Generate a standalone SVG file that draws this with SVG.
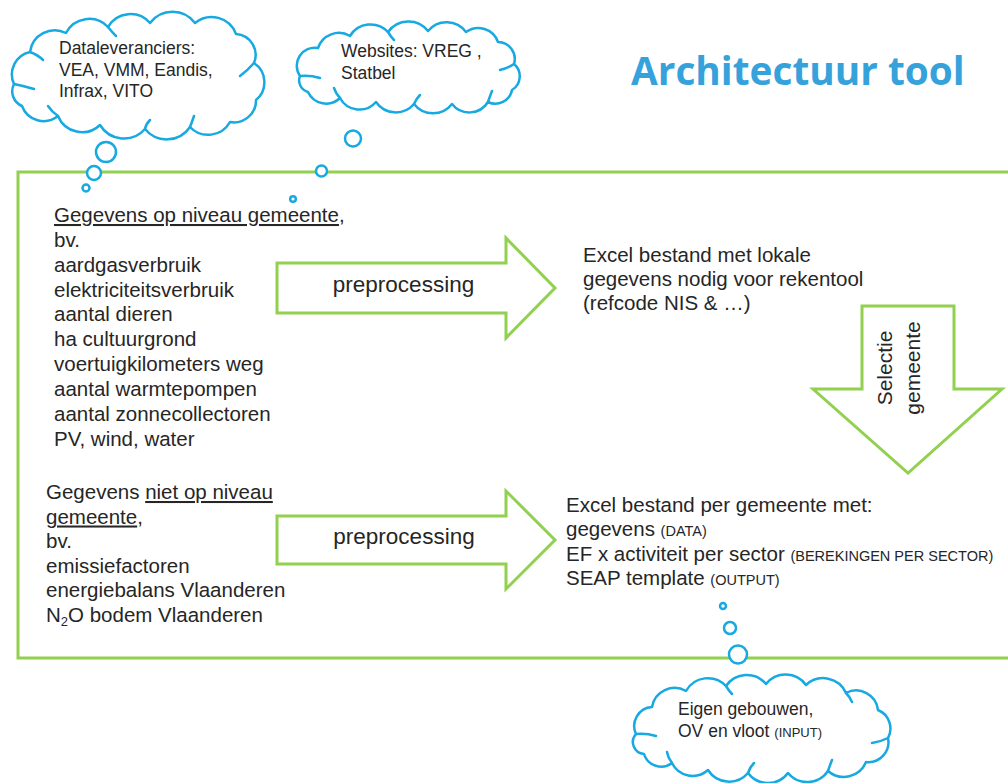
<svg xmlns="http://www.w3.org/2000/svg" width="1008" height="783" viewBox="0 0 1008 783">
<defs>
<style>
.t{font-family:"Liberation Sans",Arial,sans-serif;font-size:20.5px;fill:#262626}
.ct{font-family:"Liberation Sans",Arial,sans-serif;font-size:17.5px;fill:#262626}
.sm{font-size:14.5px}
.pp{font-family:"Liberation Sans",Arial,sans-serif;font-size:22.5px;fill:#262626;text-anchor:middle}
.green{fill:#fff;stroke:#92D050;stroke-width:3}
.frame{fill:none;stroke:#92D050;stroke-width:3}
.cloud{fill:#fff;stroke:#17A9E1;stroke-width:2.5;stroke-linejoin:round}
.curl{fill:none;stroke:#17A9E1;stroke-width:2.5;stroke-linecap:round}
.bub{fill:#fff;stroke:#17A9E1;stroke-width:2.5}
.u{text-decoration:underline}
</style>
</defs>
<rect width="1008" height="783" fill="#fff"/>

<g id="frame">
<rect class="frame" x="18" y="172" width="1000" height="486"/>
</g>

<g id="title">
<text x="631" y="85" style="font-family:'Open Sans',sans-serif;font-weight:bold;font-size:38.8px;fill:#36A2DC">Architectuur tool</text>
</g>

<g id="cloud-dataleveranciers">
<path class="cloud" d="M14,84 A23,23 0 0 1 30,52 A25,25 0 0 1 66,33 A26,26 0 0 1 108,27 A26,26 0 0 1 150,23 A28,28 0 0 1 195,23 A26,26 0 0 1 236,34 A21,21 0 0 1 254,63 A23,23 0 0 1 256,100 A22,22 0 0 1 230,122 A25,25 0 0 1 190,127 A28,28 0 0 1 145,129 A28,28 0 0 1 100,125 A26,26 0 0 1 58,116 A23,23 0 0 1 22,106 A16,16 0 0 1 14,84 Z"/>
<path class="curl" d="M14,84 Q24,86 34,89 M58,116 Q52,112 48,106 M145,129 Q146,124 150,120 M190,127 Q192,122 194,116 M254,63 Q248,70 240,76 M108,27 Q112,32 116,36 M30,52 Q38,55 43,60"/>
<text class="ct" x="59" y="54">Dataleveranciers:</text>
<text class="ct" x="59" y="76">VEA, VMM, Eandis,</text>
<text class="ct" x="59" y="97">Infrax, VITO</text>
</g>

<g id="cloud-websites">
<path class="cloud" d="M300,76 A18,18 0 0 1 318,48 A22,22 0 0 1 350,36 A24,24 0 0 1 388,32 A25,25 0 0 1 428,31 A24,24 0 0 1 466,32 A21,21 0 0 1 498,42 A17,17 0 0 1 514,64 A16,16 0 0 1 512,90 A17,17 0 0 1 488,102 A22,22 0 0 1 452,104 A24,24 0 0 1 414,104 A24,24 0 0 1 376,102 A22,22 0 0 1 340,98 A20,20 0 0 1 308,92 A12,12 0 0 1 300,76 Z"/>
<path class="curl" d="M300,76 Q310,75 320,78 M340,98 Q336,94 334,88 M414,104 Q416,99 420,95 M488,102 Q490,96 492,91 M514,64 Q508,68 500,70 M388,32 Q391,37 394,40"/>
<text class="ct" x="341" y="57">Websites: VREG ,</text>
<text class="ct" x="341" y="79">Statbel</text>
</g>

<g id="cloud-eigen">
<path class="cloud" d="M636,734 A19,19 0 0 1 652,707 A23,23 0 0 1 686,691 A25,25 0 0 1 726,686 A25,25 0 0 1 766,684 A25,25 0 0 1 806,685 A25,25 0 0 1 846,693 A22,22 0 0 1 878,710 A20,20 0 0 1 888,738 A20,20 0 0 1 866,762 A24,24 0 0 1 828,771 A25,25 0 0 1 788,773 A25,25 0 0 1 748,773 A25,25 0 0 1 708,770 A23,23 0 0 1 672,763 A18,18 0 0 1 644,754 A12,12 0 0 1 636,734 Z"/>
<path class="curl" d="M636,734 Q646,733 656,736 M672,763 Q668,758 667,752 M748,773 Q750,767 754,763 M828,771 Q830,765 832,760 M888,738 Q880,742 872,743 M726,686 Q729,691 732,694 M846,693 Q850,697 852,702"/>
<text class="ct" x="678" y="715">Eigen gebouwen,</text>
<text class="ct" x="678" y="737">OV en vloot <tspan style="font-size:13px">(INPUT)</tspan></text>
</g>

<g id="bubbles">
<circle class="bub" cx="106" cy="152" r="10"/>
<circle class="bub" cx="94" cy="173" r="7"/>
<circle class="bub" cx="86" cy="188" r="3.5"/>
<circle class="bub" cx="353" cy="138.5" r="8"/>
<circle class="bub" cx="321.5" cy="171" r="5.5"/>
<circle class="bub" cx="293" cy="199" r="2.8"/>
<circle class="bub" cx="723" cy="606" r="3"/>
<circle class="bub" cx="730" cy="628" r="6"/>
<circle class="bub" cx="738" cy="654.5" r="9"/>
</g>

<g id="data-gemeente">
<text class="t" x="54" y="222"><tspan class="u">Gegevens op niveau gemeente</tspan>,</text>
<text class="t" x="54" y="247">bv.</text>
<text class="t" x="54" y="272">aardgasverbruik</text>
<text class="t" x="54" y="296.5">elektriciteitsverbruik</text>
<text class="t" x="54" y="321">aantal dieren</text>
<text class="t" x="54" y="346">ha cultuurgrond</text>
<text class="t" x="54" y="371">voertuigkilometers weg</text>
<text class="t" x="54" y="396">aantal warmtepompen</text>
<text class="t" x="54" y="420.5">aantal zonnecollectoren</text>
<text class="t" x="54" y="445.5">PV, wind, water</text>
</g>

<g id="data-niet-gemeente">
<text class="t" x="46" y="499">Gegevens <tspan class="u">niet op niveau</tspan></text>
<text class="t" x="46" y="523.5"><tspan class="u">gemeente</tspan>,</text>
<text class="t" x="46" y="548">bv.</text>
<text class="t" x="46" y="572.5">emissiefactoren</text>
<text class="t" x="46" y="597">energiebalans Vlaanderen</text>
<text class="t" x="46" y="622">N<tspan dy="4" style="font-size:13px">2</tspan><tspan dy="-4">O bodem Vlaanderen</tspan></text>
</g>

<g id="excel-lokaal">
<text class="t" x="583" y="262">Excel bestand met lokale</text>
<text class="t" x="583" y="286">gegevens nodig voor rekentool</text>
<text class="t" x="583" y="310">(refcode NIS &amp; …)</text>
</g>

<g id="excel-gemeente">
<text class="t" x="566" y="512">Excel bestand per gemeente met:</text>
<text class="t" x="566" y="536">gegevens <tspan class="sm">(DATA)</tspan></text>
<text class="t" x="566" y="561">EF x activiteit per sector <tspan class="sm">(BEREKINGEN PER SECTOR)</tspan></text>
<text class="t" x="566" y="585">SEAP template <tspan class="sm">(OUTPUT)</tspan></text>
</g>

<g id="connectors">
<g id="arrow-preprocessing-1">
<polygon class="green" points="277,263 506,263 506,238 555,288 506,338 506,313 277,313"/>
<text class="pp" x="403.5" y="292">preprocessing</text>
</g>
<g id="arrow-preprocessing-2">
<polygon class="green" points="277,516 506,516 506,491 555,540 506,589 506,564 277,564"/>
<text class="pp" x="404" y="544">preprocessing</text>
</g>
<g id="arrow-selectie">
<polygon class="green" points="862,306 954,306 954,389 1002,389 908,473 813,389 862,389"/>
<text class="t" transform="translate(892,368) rotate(-90)" text-anchor="middle" style="font-size:21px"><tspan x="0" y="0">Selectie</tspan><tspan x="0" y="28">gemeente</tspan></text>
</g>
</g>
</svg>
